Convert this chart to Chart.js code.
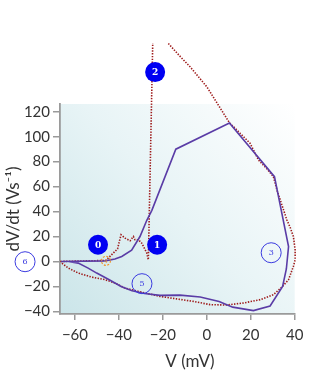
<!DOCTYPE html>
<html><head><meta charset="utf-8">
<script src="https://cdn.jsdelivr.net/npm/chart.js@4/dist/chart.umd.min.js"></script>
<style>html,body{margin:0;padding:0;background:#fff}canvas{display:block}</style>
</head><body>
<canvas id="c" width="312" height="377"></canvas>
<script>
// Purple (solid) phase-plane trace
const purpleV  = [-66.3,-46.3,-41.8,-38.7,-34.2,-30.4,-27.3,-25,-14.1,10.3,30.8,37.2,36.2,34.5,28.8,21.2,11.8,5.6,-3,-12.2,-21.3,-28.4,-34,-39,-44.4,-50.1,-54,-58.5,-63,-66.3];
const purpleDV = [0,0.5,2,4,9,20,33,41,90,111,68,12,-6,-20,-35.7,-39.4,-36.6,-32,-28.5,-27,-27.2,-25.7,-23.5,-20,-14.6,-9.3,-5.3,-1.3,0,0];
// Red (dotted) phase-plane trace
const redV  = [-17.5,-12.5,-7.6,-3.8,0,3.8,10.3,15,19.7,23.5,27,30.3,31.9,34.9,36.4,38,39.4,40.2,40.2,39.4,37.2,34.2,30.3,24.3,16.7,9.1,1.5,-6.1,-13.7,-21.3,-26.6,-31.1,-37.2,-41.8,-46.3,-52.4,-58.5,-63,-66,-66.3,-46,-41.8,-40.6,-39.8,-39,-37.2,-34.9,-33.4,-32.7,-31.1,-29.6,-27.3,-26.6,-24.6];
const redDV = [174.7,165,156,148,140,129.4,111.2,103,94.7,81.4,75,68,57.4,41.4,33.4,27,20,9.4,1.4,-4,-14.6,-20.5,-26.6,-30.6,-33.3,-34.9,-34.6,-32,-30,-28,-25.8,-24,-21.3,-17.3,-14.6,-12.5,-9.3,-5.3,-1.3,0,0.8,8,10.2,16,21.4,18.7,16.6,20,17.4,17.4,14.7,6.7,1.4,175];
// Numbered markers
const filledLabels = ['0','1','2'];
const filledV  = [-49.5,-22.6,-23.5];
const filledDV = [13.4,13.4,151.8];
const openLabels = ['6','5','3'];
const openV  = [-82.7,-29.5,29.3];
const openDV = [-0.2,-17.8,7];
const orangeLabels = ['4'];
const orangeV  = [-45.9];
const orangeDV = [0.5];
// Axes
const xTicks = [-60,-40,-20,0,20,40];
const yTicks = [-40,-20,0,20,40,60,80,100,120];

const pts = (xs, ys) => xs.map((x, i) => ({x: x, y: ys[i]}));
const minus = v => String(v).replace('-', '\u2212');
const AX = '#9a9a9a';
const TICKFONT = {family: 'Lato', size: 15};

const bgPlugin = {
  id: 'bg',
  beforeDraw(chart) {
    const {ctx, chartArea: a} = chart;
    const g = ctx.createLinearGradient(a.left, a.bottom, a.right, a.top);
    g.addColorStop(0, '#cbe5e9');
    g.addColorStop(0.5, '#e8f4f6');
    g.addColorStop(1, '#ffffff');
    ctx.save();
    ctx.fillStyle = g;
    ctx.fillRect(a.left, a.top, a.right - a.left, a.bottom - a.top);
    ctx.restore();
  }
};

const labelPlugin = {
  id: 'labels',
  afterDatasetsDraw(chart) {
    const ctx = chart.ctx;
    const xs = chart.scales.x, ys = chart.scales.y;
    ctx.save();
    ctx.textAlign = 'center';
    ctx.textBaseline = 'middle';
    // filled markers
    filledV.forEach((v, i) => {
      const px = xs.getPixelForValue(v), py = ys.getPixelForValue(filledDV[i]);
      ctx.fillStyle = '#0000f2';
      ctx.beginPath(); ctx.arc(px, py, 10, 0, Math.PI * 2); ctx.fill();
      ctx.fillStyle = '#ffffff';
      ctx.font = 'bold 9px "DejaVu Serif"';
      ctx.fillText(filledLabels[i], px, py + 0.5);
    });
    openV.forEach((v, i) => {
      const px = xs.getPixelForValue(v), py = ys.getPixelForValue(openDV[i]);
      ctx.strokeStyle = '#3b3be0';
      ctx.lineWidth = 1;
      ctx.beginPath(); ctx.arc(px, py, 10, 0, Math.PI * 2); ctx.stroke();
      ctx.fillStyle = '#3b3be0';
      ctx.font = '8px "DejaVu Serif"';
      ctx.fillText(openLabels[i], px, py + 0.5);
    });
    orangeV.forEach((v, i) => {
      const px = xs.getPixelForValue(v), py = ys.getPixelForValue(orangeDV[i]);
      ctx.strokeStyle = '#f0962a';
      ctx.lineWidth = 1.2;
      ctx.setLineDash([2, 1.5]);
      ctx.beginPath(); ctx.arc(px, py, 4.5, 0, Math.PI * 2); ctx.stroke();
      ctx.setLineDash([]);
      ctx.fillStyle = '#f0962a';
      ctx.font = '5px "DejaVu Serif"';
      ctx.fillText(orangeLabels[i], px, py + 0.5);
    });
    // axis titles
    ctx.fillStyle = '#333333';
    ctx.font = '17px Lato';
    ctx.fillText('V (mV)', 190, 362);
    ctx.translate(14, 209);
    ctx.rotate(-Math.PI / 2);
    ctx.fillText('dV/dt (Vs\u207B\u00B9)', 0, 0);
    ctx.restore();
  }
};

new Chart(document.getElementById('c'), {
  type: 'scatter',
  data: {
    datasets: [
      {data: pts(redV, redDV), showLine: true, borderColor: '#9e1b1b', borderWidth: 1.6,
       borderDash: [1.4, 1.4], pointRadius: 0, fill: false, clip: false, order: 6, tension: 0},
      {data: pts(purpleV, purpleDV), showLine: true, borderColor: '#5a3ca6', borderWidth: 1.6,
       pointRadius: 0, fill: false, clip: false, order: 5}
    ]
  },
  options: {
    responsive: false,
    animation: false,
    devicePixelRatio: 1,
    events: [],
    layout: {padding: {top: 104, right: 17.3, left: 0, bottom: 0}},
    plugins: {legend: {display: false}, tooltip: {enabled: false}},
    scales: {
      x: {
        type: 'linear', min: -66.8, max: 40,
        afterBuildTicks: s => { s.ticks = xTicks.map(v => ({value: v})); },
        afterFit: s => { s.height = 63; },
        ticks: {font: TICKFONT, color: '#333', padding: 6, maxRotation: 0, callback: v => minus(v)},
        grid: {drawOnChartArea: false, drawTicks: true, tickLength: 6, color: AX, lineWidth: 1.5},
        border: {color: AX, width: 1.8}
      },
      y: {
        type: 'linear', min: -42.1, max: 126.2,
        afterBuildTicks: s => { s.ticks = yTicks.map(v => ({value: v})); },
        afterFit: s => { s.width = 60; },
        ticks: {font: TICKFONT, color: '#333', padding: 3, callback: v => minus(v)},
        grid: {drawOnChartArea: false, drawTicks: true, tickLength: 7, color: AX, lineWidth: 1.5},
        border: {color: AX, width: 1.8}
      }
    }
  },
  plugins: [bgPlugin, labelPlugin]
});
</script>
</body></html>
